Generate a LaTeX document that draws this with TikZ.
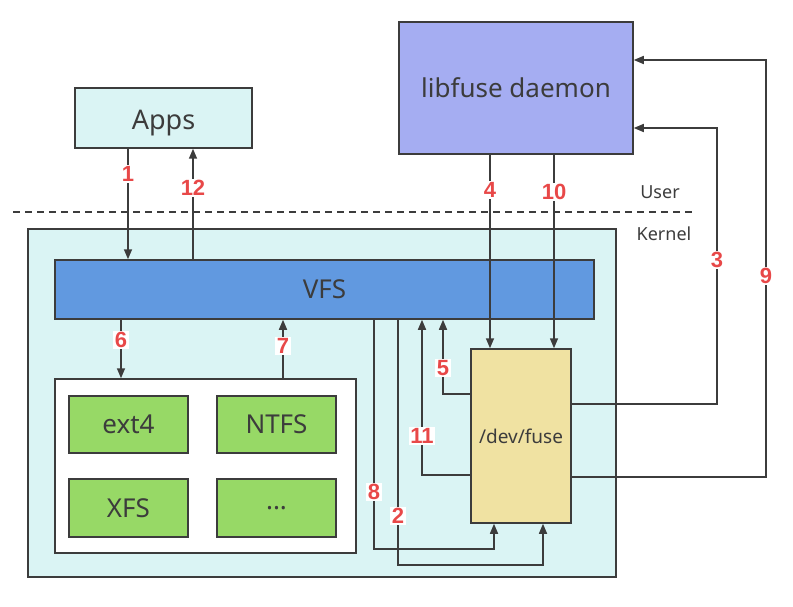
\documentclass[tikz,border=0pt]{standalone}
\usepackage{fontspec}
\setmainfont{Noto Sans}
\newfontfamily\lblfont{Liberation Sans}
\usetikzlibrary{arrows.meta}
\definecolor{strk}{HTML}{3C3C3C}
\definecolor{cyanbg}{HTML}{DAF4F4}
\definecolor{libc}{HTML}{A5ADF2}
\definecolor{vfsc}{HTML}{6199E0}
\definecolor{grn}{HTML}{97D966}
\definecolor{devc}{HTML}{F0E2A2}
\definecolor{lblc}{HTML}{E84848}
\begin{document}
\begin{tikzpicture}[x=1pt,y=-1pt,
  box/.style={draw=strk,line width=1.5pt,inner sep=0pt,text=strk},
  big/.style={font=\fontsize{26}{30}\selectfont},
  arr/.style={draw=strk,line width=1.5pt,-{Triangle[length=10pt,width=8pt]}},
  lbl/.style={fill=white,text=lblc,inner sep=1.5pt,font=\lblfont\fontsize{22}{24}\selectfont\bfseries},
  side/.style={text=strk,font=\fontsize{18}{22}\selectfont}]
\useasboundingbox (0,0) rectangle (793,607);
% boxes
\node[box,fill=cyanbg,minimum width=588pt,minimum height=348pt] (kern) at (322,403) {};
\node[box,fill=cyanbg,minimum width=177pt,minimum height=60pt,font=\fontsize{27}{30}\selectfont] (apps) at (163.5,118) {\raisebox{-12pt}[0pt][0pt]{Apps}};
\node[box,fill=libc,minimum width=234pt,minimum height=132pt,big] (lib) at (516,88) {libfuse daemon};
\node[box,fill=vfsc,minimum width=539pt,minimum height=59pt,big] (vfs) at (324.5,289.5) {VFS};
\node[box,fill=white,minimum width=301pt,minimum height=174pt] (fsbox) at (205.5,466) {};
\node[box,fill=grn,minimum width=119pt,minimum height=57pt,big] (ext4) at (128.5,424.5) {ext4};
\node[box,fill=grn,minimum width=119pt,minimum height=57pt,big] (ntfs) at (276.5,424.5) {NTFS};
\node[box,fill=grn,minimum width=119pt,minimum height=58pt,big] (xfs) at (128.5,508) {XFS};
\node[box,fill=grn,minimum width=119pt,minimum height=58pt,big] (dots) at (276.5,508) {...};
\node[box,fill=devc,minimum width=100pt,minimum height=174pt,font=\fontsize{19}{22}\selectfont] (dev) at (521,436) {/dev/fuse};
% divider
\coordinate (dl) at (13,212);
\coordinate (dr) at (693,212);
\draw[strk,line width=1.3pt,dash pattern=on 7pt off 5pt] (dl) -- (dr);
\node[side] (user) at (660,192) {User};
\node[side] (kernl) at (664,234) {Kernel};
% helper coordinates
\coordinate (c1) at (128,0);
\coordinate (c12) at (193,0);
\coordinate (c6) at (121,0);
\coordinate (c7) at (283,0);
\coordinate (c4) at (490,0);
\coordinate (c10) at (554,0);
\coordinate (p8) at (494,549);
\coordinate (s8) at (374,0);
\coordinate (p2) at (543,565);
\coordinate (s2) at (398,0);
\coordinate (q5) at (443,394);
\coordinate (q11) at (422,475);
\coordinate (q3) at (717,404);
\coordinate (t3) at (717,128);
\coordinate (q9) at (766,477);
\coordinate (t9) at (766,60);
% connectors
\draw[arr] (apps.south -| c1) -- (vfs.north -| c1);
\draw[arr] (vfs.north -| c12) -- (apps.south -| c12);
\draw[arr] (vfs.south -| c6) -- (fsbox.north -| c6);
\draw[arr] (fsbox.north -| c7) -- (vfs.south -| c7);
\draw[arr] (lib.south -| c4) -- (dev.north -| c4);
\draw[arr] (lib.south -| c10) -- (dev.north -| c10);
\draw[arr] (vfs.south -| s8) |- (p8) -- (dev.south -| p8);
\draw[arr] (vfs.south -| s2) |- (p2) -- (dev.south -| p2);
\draw[arr] (dev.west |- q5) -| (vfs.south -| q5);
\draw[arr] (dev.west |- q11) -| (vfs.south -| q11);
\draw[arr] (dev.east |- q3) -| (t3) -- (lib.east |- t3);
\draw[arr] (dev.east |- q9) -| (t9) -- (lib.east |- t9);
% labels
\node[lbl] (l1) at (128,174) {1};
\node[lbl] (l12) at (193,188) {12};
\node[lbl] (l6) at (121,340) {6};
\node[lbl] (l7) at (283,346) {7};
\node[lbl] (l4) at (490,190) {4};
\node[lbl] (l10) at (554,192) {10};
\node[lbl] (l3) at (717,260) {3};
\node[lbl] (l9) at (766,276) {9};
\node[lbl] (l5) at (443,368) {5};
\node[lbl] (l11) at (422,436) {11};
\node[lbl] (l8) at (374,492) {8};
\node[lbl] (l2) at (398,516) {2};
\end{tikzpicture}
\end{document}
